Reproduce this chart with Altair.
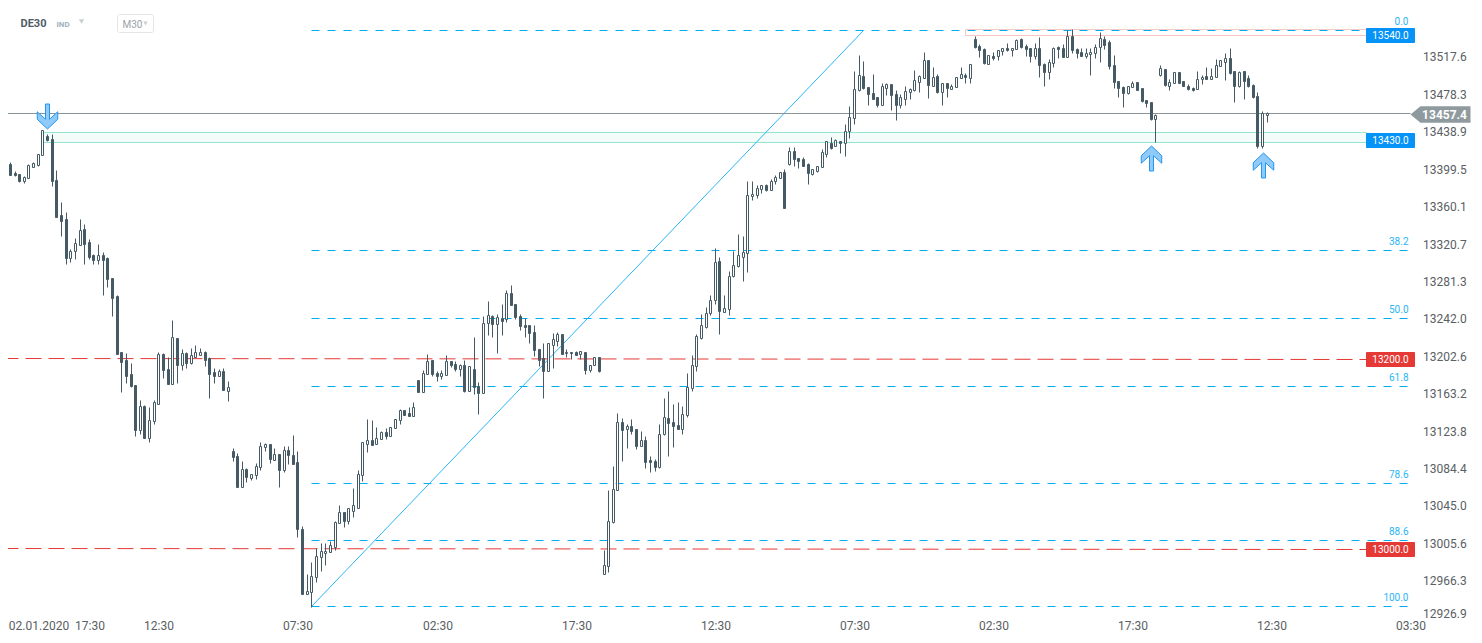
import altair as alt
import pandas as pd

opens = [
13389,13404,13395,13394,13387,13390,13401,13403,13414,13434,
13431,13388,13351,13346,13305,13313,13319,13336,13322,13309,
13303,13309,13305,13284,13265,13206,13198,13183,13172,13124,
13150,13116,13134,13152,13204,13189,13173,13221,13193,13205,
13195,13201,13203,13206,13200,13185,13181,13186,13165,13102,
13097,13064,13083,13074,13077,13086,13107,13110,13093,13099,
13082,13103,13098,13091,13020,12952,12954,12970,12991,12995,
12996,13001,13027,13038,13029,13039,13042,13077,13110,13114,
13110,13115,13122,13118,13127,13135,13145,13142,13139,13177,
13164,13183,13198,13184,13181,13182,13197,13194,13189,13193,
13165,13189,13171,13163,13237,13244,13236,13242,13241,13269,
13257,13244,13235,13235,13228,13210,13200,13186,13214,13218,
13225,13205,13207,13206,13204,13207,13188,13193,13201,12973,
12981,13028,13061,13133,13126,13129,13125,13108,13114,13093,
13092,13086,13120,13137,13133,13130,13126,13140,13169,13192,
13221,13233,13248,13261,13302,13249,13252,13286,13297,13307,
13311,13371,13372,13378,13382,13377,13386,13390,13396,13404,
13418,13411,13410,13404,13394,13397,13401,13415,13427,13423,
13429,13427,13439,13453,13482,13497,13485,13479,13475,13467,
13484,13489,13478,13467,13473,13480,13482,13491,13495,13514,
13487,13497,13480,13490,13483,13485,13495,13498,13495,13536,
13529,13525,13510,13518,13518,13523,13526,13524,13525,13536,
13529,13526,13518,13526,13510,13501,13511,13528,13526,13517,
13539,13525,13522,13518,13520,13521,13528,13536,13533,13509,
13492,13485,13479,13485,13491,13484,13472,13470,13452,13498,
13504,13487,13490,13501,13492,13487,13484,13483,13494,13497,
13494,13496,13508,13512,13516,13502,13487,13502,13495,13488,
13476,13423,13456]

closes = [
13404,13393,13393,13387,13391,13403,13405,13415,13440,13430,
13387,13349,13344,13305,13313,13321,13335,13320,13307,13303,
13309,13303,13283,13263,13204,13196,13181,13171,13124,13150,
13116,13135,13154,13204,13188,13173,13222,13193,13205,13195,
13203,13206,13206,13198,13183,13181,13186,13166,13170,13096,
13064,13083,13075,13078,13087,13108,13110,13094,13099,13082,
13103,13098,13089,13020,12952,12955,12971,12992,12997,12997,
13003,13028,13038,13029,13042,13045,13078,13112,13114,13109,
13116,13122,13118,13128,13136,13145,13140,13139,13149,13164,
13184,13197,13183,13181,13184,13197,13193,13189,13193,13165,
13192,13170,13163,13237,13245,13236,13243,13239,13269,13256,
13243,13234,13233,13227,13209,13198,13187,13216,13220,13225,
13204,13207,13205,13203,13208,13188,13193,13201,13186,12982,
13029,13062,13133,13124,13129,13123,13108,13114,13091,13091,
13086,13120,13138,13132,13129,13126,13141,13170,13193,13223,
13235,13248,13261,13301,13250,13253,13287,13298,13309,13312,
13372,13373,13379,13382,13377,13387,13391,13396,13358,13418,
13410,13408,13402,13395,13399,13402,13417,13429,13421,13430,
13427,13439,13454,13483,13498,13484,13478,13473,13466,13486,
13489,13477,13467,13475,13481,13483,13493,13497,13514,13488,
13496,13480,13490,13484,13486,13496,13499,13496,13510,13528,
13524,13511,13519,13516,13524,13526,13524,13527,13535,13528,
13525,13518,13526,13509,13501,13512,13527,13525,13517,13539,
13524,13521,13518,13521,13522,13528,13537,13530,13508,13491,
13484,13479,13486,13490,13482,13471,13469,13452,13456,13505,
13488,13491,13501,13490,13486,13483,13482,13494,13496,13494,
13497,13509,13514,13516,13500,13487,13501,13492,13486,13475,
13423,13458,13458]

highs = [
13407,13407,13397,13394,13392,13404,13406,13415,13440,13436,
13436,13398,13364,13354,13315,13327,13347,13341,13325,13310,
13320,13312,13307,13284,13267,13206,13205,13195,13172,13156,
13151,13149,13156,13206,13205,13201,13240,13221,13210,13206,
13211,13214,13211,13208,13201,13190,13189,13190,13176,13105,
13100,13092,13084,13078,13090,13112,13111,13110,13105,13099,
13108,13108,13119,13102,13023,12973,12986,13000,13005,13005,
13008,13029,13046,13038,13042,13063,13082,13112,13136,13135,
13128,13123,13127,13128,13136,13147,13145,13149,13154,13177,
13188,13204,13198,13187,13188,13203,13197,13197,13194,13198,
13192,13222,13175,13244,13260,13245,13246,13257,13272,13277,
13257,13246,13242,13235,13235,13210,13216,13216,13227,13228,
13225,13210,13207,13208,13208,13207,13193,13201,13201,12998,
13061,13087,13142,13137,13131,13136,13125,13123,13118,13097,
13094,13131,13158,13165,13152,13154,13150,13184,13203,13225,
13246,13254,13267,13316,13306,13266,13292,13313,13331,13329,
13387,13386,13382,13382,13383,13389,13393,13396,13399,13422,
13422,13411,13412,13405,13399,13402,13420,13429,13433,13431,
13429,13447,13465,13502,13519,13513,13485,13499,13475,13490,
13490,13489,13482,13478,13487,13484,13503,13498,13522,13514,
13506,13499,13490,13490,13489,13496,13506,13500,13510,13539,
13531,13526,13519,13522,13524,13526,13532,13527,13536,13537,
13531,13526,13532,13538,13511,13515,13528,13529,13531,13545,
13546,13527,13526,13526,13527,13531,13543,13539,13535,13519,
13492,13486,13487,13492,13491,13484,13472,13470,13457,13509,
13504,13494,13501,13501,13492,13489,13485,13502,13498,13506,
13505,13515,13514,13521,13527,13502,13502,13502,13498,13489,
13480,13460,13459]

lows = [
13376,13393,13392,13385,13384,13390,13401,13402,13414,13429,
13381,13349,13329,13299,13301,13304,13319,13299,13304,13299,
13299,13266,13275,13244,13204,13164,13174,13170,13118,13120,
13116,13112,13131,13152,13179,13173,13173,13174,13188,13190,
13194,13201,13203,13192,13158,13174,13181,13166,13155,13092,
13064,13064,13070,13072,13073,13082,13102,13090,13093,13064,
13080,13089,13089,13012,12952,12952,12938,12964,12976,12982,
12996,12998,13027,13022,13026,13033,13042,13071,13101,13109,
13110,13115,13115,13118,13127,13131,13140,13139,13139,13164,
13164,13183,13181,13176,13178,13182,13191,13187,13181,13164,
13165,13162,13141,13163,13224,13222,13205,13224,13238,13256,
13241,13230,13222,13216,13202,13192,13158,13186,13190,13213,
13204,13201,13199,13203,13199,13183,13185,13193,13185,12973,
12975,13027,13061,13092,13106,13120,13104,13108,13084,13080,
13081,13084,13119,13097,13107,13125,13120,13138,13165,13186,
13220,13232,13245,13257,13225,13249,13245,13285,13296,13281,
13291,13366,13369,13374,13376,13377,13383,13390,13358,13403,
13402,13400,13402,13383,13393,13396,13401,13412,13420,13423,
13416,13413,13432,13446,13481,13483,13467,13473,13464,13467,
13477,13461,13451,13463,13466,13473,13481,13480,13495,13474,
13487,13479,13466,13475,13483,13485,13495,13490,13490,13527,
13517,13510,13510,13514,13514,13519,13523,13518,13525,13527,
13518,13512,13515,13496,13487,13494,13506,13516,13517,13517,
13521,13516,13518,13516,13498,13516,13512,13525,13504,13484,
13475,13464,13478,13485,13482,13470,13464,13451,13428,13497,
13487,13482,13490,13490,13486,13482,13481,13483,13489,13494,
13494,13496,13508,13493,13499,13470,13485,13473,13485,13474,
13421,13421,13449]

y_ticks = [13517.6, 13478.3, 13438.9, 13399.5, 13360.1, 13320.7, 13281.3, 13242.0,
           13202.6, 13163.2, 13123.8, 13084.4, 13045.0, 13005.6, 12966.3, 12932.1]
x_ticks = [7.15, 18, 33, 63, 93, 123, 153, 183, 213, 243, 273, 303]
x_labels = ["02.01.2020", "17:30", "12:30", "07:30", "02:30", "17:30", "12:30",
            "07:30", "02:30", "17:30", "12:30", "03:30"]

fib_names = ["0.0", "38.2", "50.0", "61.8", "78.6", "88.6", "100.0"]
fib_prices = [13545.4, 13313.9, 13242.3, 13170.7, 13068.6, 13008.6, 12939.2]

n = min(len(opens), len(closes), len(highs), len(lows))
candles = pd.DataFrame({
    "i": list(range(n)),
    "open": opens[:n], "close": closes[:n], "high": highs[:n], "low": lows[:n],
})
candles_up = candles[candles.close >= candles.open]
candles_down = candles[candles.close < candles.open]

DARK = "#455a64"
BLUE = "#00aeef"
X = alt.Scale(domain=[0.58, 304.62], nice=False, zero=False, padding=0, round=True)
Y = alt.Scale(domain=[12929.7, 13568.6], nice=False, zero=False, padding=0, round=True)

label_map = ",".join(f'"{t}":"{l}"' for t, l in zip(x_ticks, x_labels))
x_axis = alt.Axis(
    values=x_ticks, title=None, domain=False, ticks=False, grid=False,
    labelExpr="{" + label_map + "}[''+datum.value]",
    labelOverlap=False, labelBound=False, labelFlush=False, labelPadding=5,
    labelFont="Roboto", labelFontSize=12, labelColor="#5a6063")
y_axis = alt.Axis(
    orient="right", values=y_ticks, title=None, domain=False, ticks=False, grid=False,
    labelExpr="datum.value == 12932.1 ? '12926.9' : format(datum.value, '.1f')",
    labelOverlap=False, labelBound=False, labelFlush=False, labelPadding=4,
    labelFont="Roboto", labelFontSize=12, labelColor="#5a6063")
xq = lambda f: alt.X(f, type="quantitative", scale=X, axis=x_axis)
yq = lambda f: alt.Y(f, type="quantitative", scale=Y, axis=y_axis)

zone = alt.Chart(pd.DataFrame({"a": [8.0], "b": [293.4], "lo": [13427.3], "hi": [13437.7]})).mark_rect(
    fill="#f4fcfa", stroke="#92e6cf", strokeWidth=1).encode(
    x=xq("a"), x2="b", y=yq("lo"), y2="hi")
pink = alt.Chart(pd.DataFrame({"a": [207.0], "b": [293.4], "lo": [13540.2], "hi": [13546.5]})).mark_rect(
    fill="#ffffff", fillOpacity=0, stroke="#f8c6c1", strokeWidth=1).encode(
    x=xq("a"), x2="b", y=yq("lo"), y2="hi")

fib = pd.DataFrame({"name": fib_names, "p": fib_prices, "a": 65.92, "b": 302.5})
fib_lines = alt.Chart(fib).mark_rule(stroke=BLUE, strokeWidth=1, strokeDash=[8, 8]).encode(
    x=xq("a"), x2="b", y=yq("p"))
fib_text = alt.Chart(fib).mark_text(align="right", baseline="middle", dy=-9, font="Roboto", fontSize=10,
                                    color="#29b6f6").encode(
    x=xq("b"), y=yq("p"), text="name:N")
trend = alt.Chart(pd.DataFrame({"x": [65.92, 184.96], "p": [12939.2, 13545.4]})).mark_line(
    stroke="#29b6f6", strokeWidth=1).encode(x=xq("x"), y=yq("p"))

red = pd.DataFrame({"k": ["a", "a", "b", "b"], "x": [-0.7, 293.4, -0.7, 293.4],
                    "p": [13200.2, 13199.1, 13000.2, 12999.2]})
red_lines = alt.Chart(red).mark_line(stroke="#e53935", strokeWidth=1, strokeDash=[16, 7]).encode(
    x=xq("x"), y=yq("p"), detail="k:N")

last = alt.Chart(pd.DataFrame({"a": [-0.7], "b": [302.9], "p": [13458.0]})).mark_rule(
    stroke="#8a9599", strokeWidth=1).encode(x=xq("a"), x2="b", y=yq("p"))

wicks = alt.Chart(candles).mark_rule(stroke=DARK, strokeWidth=1).encode(
    x=xq("i"), y=yq("low"), y2="high")
bodies_up = alt.Chart(candles_up).mark_bar(size=2, stroke=DARK, strokeWidth=1, fill="#ffffff").encode(
    x=xq("i"), y=yq("open"), y2="close")
bodies_down = alt.Chart(candles_down).mark_bar(size=2, stroke=DARK, strokeWidth=1, fill=DARK).encode(
    x=xq("i"), y=yq("open"), y2="close")

tags = pd.DataFrame({
    "label": ["13540.0", "13430.0", "13200.0", "13000.0"],
    "p": [13539.8, 13429.5, 13198.8, 12998.8],
    "lo": [13532.5, 13422.2, 13191.5, 12991.5],
    "hi": [13547.1, 13436.8, 13206.1, 13006.1],
    "kind": ["blue", "blue", "red", "red"], "a": 293.4, "b": 303.8, "c": 298.6,
})
tag_blue = alt.Chart(tags[tags.kind == "blue"]).mark_rect(fill="#0593f7", stroke="#0593f7", strokeWidth=1).encode(
    x=xq("a"), x2="b", y=yq("lo"), y2="hi")
tag_red = alt.Chart(tags[tags.kind == "red"]).mark_rect(fill="#e53935", stroke="#e53935", strokeWidth=1).encode(
    x=xq("a"), x2="b", y=yq("lo"), y2="hi")
tag_text = alt.Chart(tags).mark_text(font="Roboto", fontSize=10, color="#ffffff", baseline="middle").encode(
    x=xq("c"), y=yq("p"), text="label:N")

POINTER = "M-1,0 L-0.667,-0.278 L1,-0.278 L1,0.278 L-0.667,0.278 Z"
cur_box = alt.Chart(pd.DataFrame({"x": [309.4], "p": [13457.4]})).mark_point(
    shape=POINTER, filled=True, fill="#8f9a9e", size=3600, opacity=1, strokeWidth=0).encode(x=xq("x"), y=yq("p"))
cur_text = alt.Chart(pd.DataFrame({"x": [310.2], "p": [13457.4], "t": ["13457.4"]})).mark_text(
    font="Roboto", fontSize=12, fontWeight="bold", color="#ffffff", baseline="middle").encode(
    x=xq("x"), y=yq("p"), text="t:N")

DOWN = "M-0.16,-1 L0.16,-1 L0.16,0.22 L0.82,-0.38 L0.82,0.22 L0,1 L-0.82,0.22 L-0.82,-0.38 L-0.16,0.22 Z"
UP = "M-0.16,1 L0.16,1 L0.16,-0.22 L0.82,0.38 L0.82,-0.22 L0,-1 L-0.82,-0.22 L-0.82,0.38 L-0.16,-0.22 Z"
arrow_style = dict(filled=True, fill="#90caf9", stroke="#2196f3", strokeWidth=1, size=625, opacity=1)
arrow_down = alt.Chart(pd.DataFrame({"x": [9.05], "p": [13454.4]})).mark_point(shape=DOWN, **arrow_style).encode(
    x=xq("x"), y=yq("p"))
arrow_up = alt.Chart(pd.DataFrame({"x": [247.1, 271.3], "p": [13410.3, 13403.1]})).mark_point(shape=UP, **arrow_style).encode(
    x=xq("x"), y=yq("p"))

one = pd.DataFrame({"a": [0]})
def label(txt, px, py, size, color, weight="normal"):
    return alt.Chart(one).mark_text(text=txt, align="left", baseline="middle", font="Roboto",
                                    fontSize=size, color=color, fontWeight=weight).encode(
        x=alt.value(px), y=alt.value(py))
def tri(px, py, size, color):
    return alt.Chart(one).mark_point(shape="triangle-down", filled=True, fill=color, size=size,
                                     opacity=1, strokeWidth=0).encode(x=alt.value(px), y=alt.value(py))

m30_box = alt.Chart(one).mark_rect(fill="#ffffff", stroke="#e3e6e8", strokeWidth=1, cornerRadius=2).encode(
    x=alt.value(109), x2=alt.value(145), y=alt.value(6), y2=alt.value(24))

chart = alt.layer(
    zone, pink, fib_lines, trend, red_lines, last, wicks, bodies_up, bodies_down,
    fib_text, tag_blue, tag_red, tag_text, cur_box, cur_text, arrow_down, arrow_up,
    label("DE30", 12, 15, 11, "#4f5d66", "bold"), label("IND", 48, 16, 8, "#a3b1ba", "bold"),
    tri(73, 13, 30, "#c8d0d5"), m30_box, label("M30", 114, 16, 10, "#9aa3a8"), tri(137, 15, 20, "#c8d0d5"),
).properties(
    width=1410, height=607,
    background="#ffffff",
    padding={"left": 0.5, "top": 0.5, "right": 55.5, "bottom": 19.5},
    autosize=alt.AutoSizeParams(type="none"),
).configure_view(strokeWidth=0)

chart.save("out.html", embed_options={"renderer": "svg", "actions": False})
